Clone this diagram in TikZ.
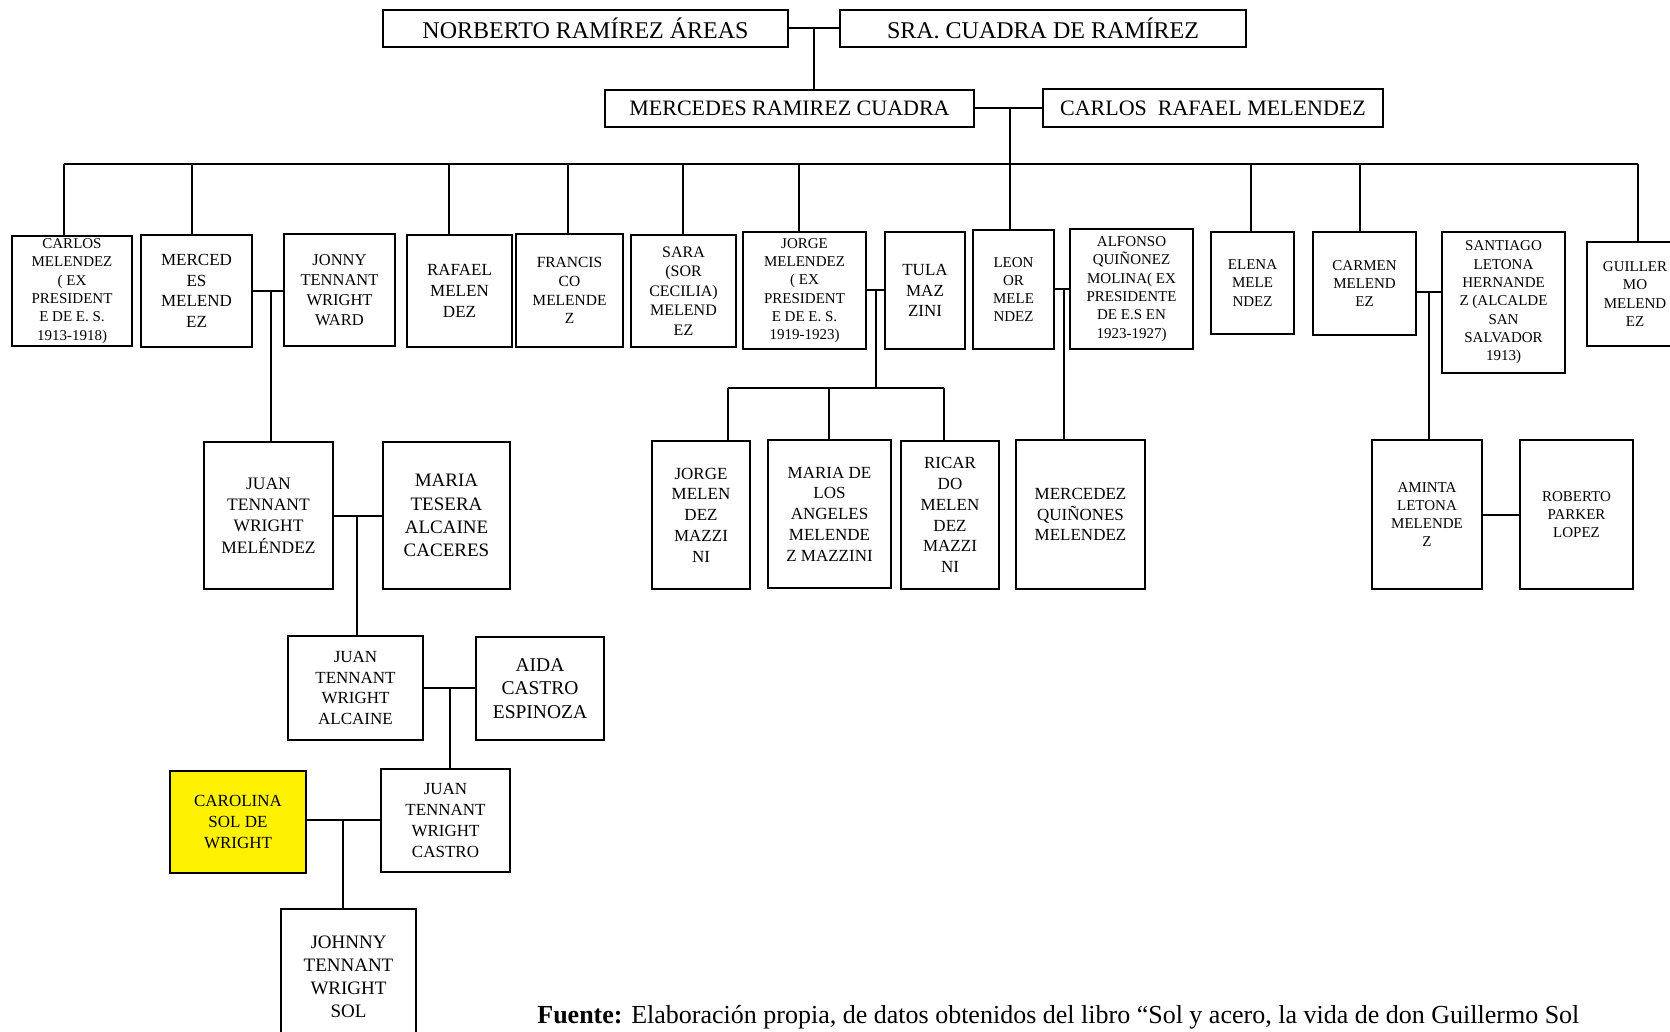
\documentclass[tikz,border=0pt]{standalone}
\usepackage{fontspec}
\setmainfont{Liberation Serif}
\newcommand\famnode[8][]{%
  \pgfmathsetmacro\cx{(#3+#5)/2}%
  \pgfmathsetmacro\cy{(#4+#6)/2}%
  \pgfmathsetmacro\ww{(#5-#3)*0.5}%
  \pgfmathsetmacro\hh{(#6-#4)*0.5}%
  \pgfmathsetmacro\fsz{#7*0.5}%
  \pgfmathsetmacro\bsk{#7*0.5*1.22}%
  \node[famebox,#1,minimum width=\ww pt,minimum height=\hh pt,font=\fontsize{\fsz}{\bsk}\selectfont] (#2) at (\cx,\cy) {#8};%
}
\tikzset{
  famebox/.style={draw, line width=1pt, inner sep=0pt, align=center, fill=white, text=black},
  ln/.style={line width=1pt, draw=black},
}
\begin{document}
\begin{tikzpicture}[x=0.5pt,y=-0.5pt]
\useasboundingbox (0,0) rectangle (1670,1032);
\clip (0,0) rectangle (1670,1032);
\fill[white] (0,0) rectangle (1670,1032);

% generation 1 and 2
\famnode{norberto}{383}{10}{788}{47}{24}{NORBERTO RAMÍREZ ÁREAS}
\famnode{sra}{840}{10}{1246}{47}{24}{SRA. CUADRA DE RAMÍREZ}
\famnode{mercedes}{605}{90}{974}{127}{22}{MERCEDES RAMIREZ CUADRA}
\famnode{carlosr}{1043}{89}{1383}{127}{22}{CARLOS\ \ RAFAEL MELENDEZ}

% generation 3
\famnode{carlos}{12}{236}{132}{346}{15}{CARLOS\\MELENDEZ\\( EX\\PRESIDENT\\E DE E. S.\\1913-1918)}
\famnode{merced}{141}{235}{252}{347}{17}{MERCED\\ES\\MELEND\\EZ}
\famnode{jonny}{284}{234}{395}{346}{16.5}{JONNY\\TENNANT\\WRIGHT\\WARD}
\famnode{rafael}{407}{235}{512}{347}{17}{RAFAEL\\MELEN\\DEZ}
\famnode{francisco}{516}{234}{623}{347}{15.5}{FRANCIS\\CO\\MELENDE\\Z}
\famnode{sara}{631}{235}{736}{347}{16}{SARA\\(SOR\\CECILIA)\\MELEND\\EZ}
\famnode{jorge}{743}{232}{866}{349}{15}{JORGE\\MELENDEZ\\( EX\\PRESIDENT\\E DE E. S.\\1919-1923)}
\famnode{tula}{885}{232}{965}{349}{17}{TULA\\MAZ\\ZINI}
\famnode{leon}{973}{230}{1054}{349}{15}{LEON\\OR\\MELE\\NDEZ}
\famnode{alfonso}{1070}{229}{1193}{349}{15}{ALFONSO\\QUIÑONEZ\\MOLINA( EX\\PRESIDENTE\\DE E.S EN\\1923-1927)}
\famnode{elena}{1211}{232}{1294}{334}{15}{ELENA\\MELE\\NDEZ}
\famnode{carmen}{1313}{232}{1416}{335}{15}{CARMEN\\MELEND\\EZ}
\famnode{santiago}{1442}{232}{1565}{373}{15}{SANTIAGO\\LETONA\\HERNANDE\\Z (ALCALDE\\SAN\\SALVADOR\\1913)}
\famnode{guillermo}{1587}{242}{1683}{346}{15}{GUILLER\\MO\\MELEND\\EZ}

% generation 4
\famnode{juanm}{204}{442}{333}{589}{17.5}{JUAN\\TENNANT\\WRIGHT\\MELÉNDEZ}
\famnode{mariat}{383}{442}{510}{589}{19}{MARIA\\TESERA\\ALCAINE\\CACERES}
\famnode{jorgemm}{652}{441}{750}{589}{17}{JORGE\\MELEN\\DEZ\\MAZZI\\NI}
\famnode{mariadla}{768}{440}{891}{588}{17}{MARIA DE\\LOS\\ANGELES\\MELENDE\\Z MAZZINI}
\famnode{ricardo}{901}{441}{999}{589}{17}{RICAR\\DO\\MELEN\\DEZ\\MAZZI\\NI}
\famnode{mercedezq}{1016}{440}{1145}{589}{17}{MERCEDEZ\\QUIÑONES\\MELENDEZ}
\famnode{aminta}{1372}{440}{1482}{589}{15}{AMINTA\\LETONA\\MELENDE\\Z}
\famnode{roberto}{1520}{440}{1633}{589}{15}{ROBERTO\\PARKER\\LOPEZ}

% generation 5
\famnode{juana}{288}{636}{423}{740}{17}{JUAN\\TENNANT\\WRIGHT\\ALCAINE}
\famnode{aida}{476}{637}{604}{740}{19.5}{AIDA\\CASTRO\\ESPINOZA}

% generation 6
\famnode[fill=yellow]{carolina}{170}{771}{306}{873}{17}{CAROLINA\\SOL DE\\WRIGHT}
\famnode{juanc}{381}{769}{510}{872}{17}{JUAN\\TENNANT\\WRIGHT\\CASTRO}

% generation 7
\famnode{johnny}{281}{909}{416}{1045}{19}{JOHNNY\\TENNANT\\WRIGHT\\SOL}

% connectors
\draw[ln] (norberto.east) -- (sra.west);
\coordinate (j1) at (814,28.5);
\draw[ln] (j1) -- (j1 |- mercedes.north);

\draw[ln] (mercedes.east) -- (mercedes.east -| carlosr.west);
\coordinate (j2) at (1010,108.5);
\draw[ln] (j2) -- (j2 |- leon.north);

\coordinate (barL) at (64,164);
\coordinate (barR) at (1638,164);
\draw[ln] (barL) -- (barR);
\foreach \x/\n in {64/carlos,192/merced,449/rafael,568/francisco,683/sara,799/jorge,1251/elena,1360/carmen,1638/guillermo}{
  \coordinate (t) at (\x,164);
  \draw[ln] (t) -- (t |- \n.north);
}

\draw[ln] (merced.east) -- (merced.east -| jonny.west);
\coordinate (j3) at (271,291);
\draw[ln] (j3) -- (j3 |- juanm.north);

\draw[ln] (juanm.east) -- (juanm.east -| mariat.west);
\coordinate (j4) at (357,515.5);
\draw[ln] (j4) -- (j4 |- juana.north);

\draw[ln] (juana.east) -- (juana.east -| aida.west);
\coordinate (j5) at (450,688);
\draw[ln] (j5) -- (j5 |- juanc.north);

\coordinate (j6) at (343,820);
\draw[ln] (j6 -| carolina.east) -- (j6 -| juanc.west);
\draw[ln] (j6) -- (j6 |- johnny.north);

\draw[ln] (jorge.east) -- (jorge.east -| tula.west);
\coordinate (j7) at (876,290.5);
\coordinate (kbar) at (876,388);
\draw[ln] (j7) -- (kbar);
\coordinate (kL) at (728,388);
\coordinate (kR) at (944,388);
\draw[ln] (kL) -- (kR);
\draw[ln] (kL) -- (kL |- jorgemm.north);
\coordinate (kM) at (829,388);
\draw[ln] (kM) -- (kM |- mariadla.north);
\draw[ln] (kR) -- (kR |- ricardo.north);

\draw[ln] (leon.east) -- (leon.east -| alfonso.west);
\coordinate (j8) at (1064,289.5);
\draw[ln] (j8) -- (j8 |- mercedezq.north);

\coordinate (j9) at (1429,292);
\draw[ln] (j9 -| carmen.east) -- (j9 -| santiago.west);
\draw[ln] (j9) -- (j9 |- aminta.north);

\draw[ln] (aminta.east) -- (aminta.east -| roberto.west);

% source line
\node[anchor=base west, inner sep=0pt, font=\fontsize{13}{15.6}\selectfont] (fuente) at (537,1023)
  {\textbf{Fuente:} Elaboración propia, de datos obtenidos del libro “Sol y acero, la vida de don Guillermo Sol};
\end{tikzpicture}
\end{document}
